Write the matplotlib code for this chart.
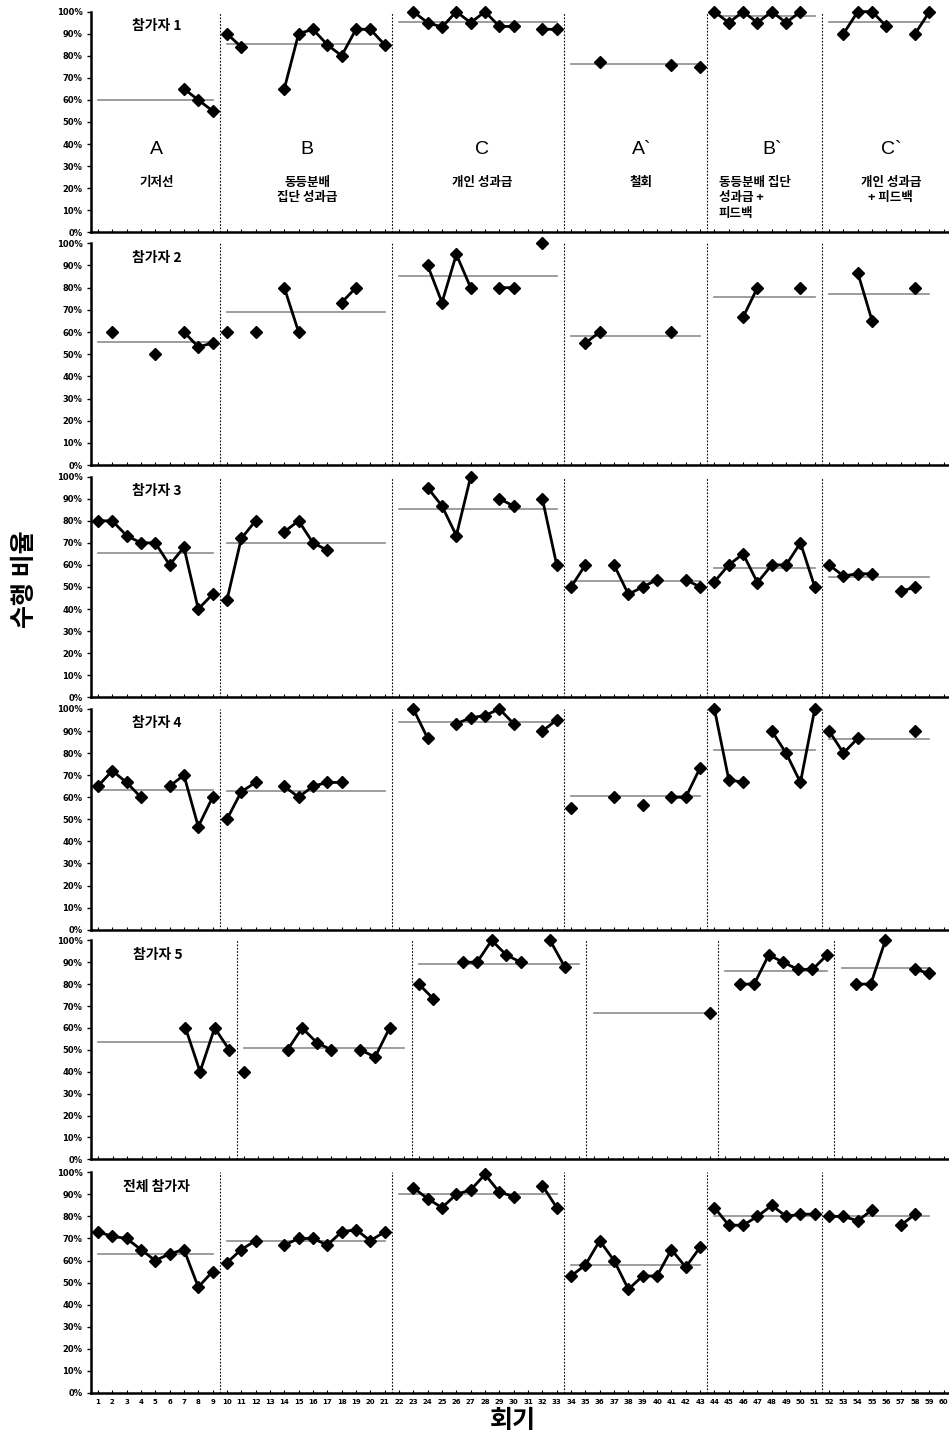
import numpy as np
import matplotlib.pyplot as plt

plt.rcParams['font.family'] = ['Noto Sans CJK KR', 'DejaVu Sans']

N = None

# 회기별 수행 비율 (%), None = 측정 없음
p1 = [N, N, N, N, N, N, 65, 60, 55,
      90, 84, N, N, 65, 90, 92, 85, 80, 92, 92, 85,
      N, 100, 95, 93, 100, 95, 100, 93.3, 93.3, N, 92, 92,
      N, N, 77, N, N, N, N, 76, N, 75,
      100, 95, 100, 95, 100, 95, 100, N,
      N, 90, 100, 100, 93.3, N, 90, 100, N]
p2 = [N, 60, N, N, 50, N, 60, 53.3, 55,
      60, N, 60, N, 80, 60, N, N, 73.3, 80, N, N,
      N, N, 90, 73.3, 95, 80, N, 80, 80, N, 100, N,
      N, 55, 60, N, N, N, N, 60, N, N,
      N, N, 66.7, 80, N, N, 80, N,
      N, N, 86.7, 65, N, N, 80, N, N]
p3 = [80, 80, 73.3, 70, 70, 60, 68, 40, 46.7,
      44, 72, 80, N, 75, 80, 70, 66.7, N, N, N, N,
      N, N, 95, 86.7, 73.3, 100, N, 90, 86.7, N, 90, 60,
      50, 60, N, 60, 46.7, 50, 53.3, N, 53.3, 50,
      52.4, 60, 65, 52, 60, 60, 70, 50,
      60, 55, 56, 56, N, 48, 50, N, N]
p4 = [65, 72, 66.7, 60, N, 65, 70, 46.7, 60,
      50, 62.5, 66.7, N, 65, 60, 65, 66.7, 66.7, N, N, N,
      N, 100, 86.7, N, 93.3, 96, 97, 100, 93.3, N, 90, 95,
      55, N, N, 60, N, 56.7, N, 60, 60, 73.3,
      100, 68, 66.7, N, 90, 80, 66.7, 100,
      90, 80, 86.7, N, N, N, 90, N, N]
# 참가자 5는 59회기
p5 = [N, N, N, N, N, N, 60, 40, 60, 50,
      40, N, N, 50, 60, 53.3, 50, N, 50, 46.7, 60, N,
      80, 73.3, N, 90, 90, 100, 93.3, 90, N, 100, 88, N,
      N, N, N, N, N, N, N, N, 66.7,
      N, 80, 80, 93.3, 90, 86.7, 86.7, 93.3,
      N, 80, 80, 100, N, 86.7, 85, N]
p6 = [73, 71, 70, 65, 60, 63, 65, 48, 55,
      59, 65, 69, N, 67, 70, 70, 67, 73, 74, 69, 73,
      N, 93, 88, 84, 90, 92, 99, 91, 89, N, 94, 84,
      53, 58, 69, 60, 47, 53, 53, 65, 57, 66,
      84, 76, 76, 80, 85, 80, 81, 81,
      80, 80, 78, 83, N, 76, 81, N, N]

# 단계별 평균선
means = [
    [60, 85.5, 95.5, 76.2, 98, 95.5],
    [55.5, 68.9, 85.2, 58.3, 75.6, 77.0],
    [65.3, 69.8, 85.2, 52.9, 58.6, 54.4],
    [63.1, 62.7, 94.3, 60.7, 81.4, 86.5],
    [53.4, 51.0, 89.0, 66.7, 85.8, 87.3],
    [63, 69, 90, 58, 80, 80],
]
phase_spans = [(1, 9), (10, 21), (22, 33), (34, 43), (44, 51), (52, 59)]
phase_spans5 = [(1, 10), (11, 22), (23, 34), (35, 43), (44, 51), (52, 58)]
phase_breaks = [9.5, 21.5, 33.5, 43.5, 51.5]
phase_breaks5 = [10.5, 22.5, 34.5, 43.5, 51.5]

titles = ['참가자 1', '참가자 2', '참가자 3', '참가자 4', '참가자 5', '전체 참가자']
phase_letters = ['A', 'B', 'C', 'A`', 'B`', 'C`']
letter_x = [5.1, 15.6, 27.8, 38.9, 48.0, 56.3]
phase_names = ['기저선', '동등분배\n집단 성과급', '개인 성과급', '철회',
               '동등분배 집단\n성과급 +\n피드백', '개인 성과급\n+ 피드백']

data = [p1, p2, p3, p4, p5, p6]

fig = plt.figure(figsize=(9.49, 14.38), dpi=100)

bottoms = [0.8385, 0.6766, 0.5151, 0.3535, 0.1938, 0.0313]
heights = [0.1534, 0.1542, 0.1534, 0.1535, 0.1523, 0.1535]

for i, vals in enumerate(data):
    ax = fig.add_axes([0.0956, bottoms[i], 0.9065, heights[i]])
    y = np.array([np.nan if v is None else v for v in vals], dtype=float)
    n = len(y)
    x = np.arange(1, n + 1)
    spans = phase_spans5 if i == 4 else phase_spans
    breaks = phase_breaks5 if i == 4 else phase_breaks

    for b in breaks:
        ax.axvline(b, color='black', ls=(0, (1.5, 1.5)), lw=0.8)
    for (s, e), m in zip(spans, means[i]):
        ax.plot([s, e], [m, m], color='#8c8c8c', lw=1.2)

    # 단계 경계에서 선을 끊기
    for (s, e) in spans:
        seg = (x >= s) & (x <= e)
        ax.plot(x[seg], y[seg], color='black', lw=2, marker='D', ms=6,
                mfc='black', mec='black', clip_on=False, zorder=5)

    ax.set_xlim(0.5, n + 0.5)
    ax.set_ylim(0, 100)
    ax.set_yticks(np.arange(0, 101, 10))
    ax.set_yticklabels([f'{v}%' for v in range(0, 101, 10)],
                       fontsize=6, fontweight='bold', family='DejaVu Sans')
    ax.set_xticks(x)
    if i == 5:
        ax.set_xticklabels([str(v) for v in x], fontsize=5, fontweight='bold',
                           family='DejaVu Sans')
    else:
        ax.set_xticklabels([])
    ax.tick_params(axis='x', direction='in', length=2, width=0.8, pad=4)
    ax.tick_params(axis='y', direction='out', length=3, width=1, pad=3)
    for sp in ['top', 'right']:
        ax.spines[sp].set_visible(False)
    ax.spines['left'].set_linewidth(1.8)
    ax.spines['bottom'].set_linewidth(1.8)

    ax.text(5.1, 93.5, titles[i], ha='center', va='center', fontsize=10,
            fontweight='bold')

    if i == 0:
        for lx, lt in zip(letter_x, phase_letters):
            ax.text(lx, 37.3, lt, ha='center', va='center', fontsize=14,
                    family='Liberation Sans')
        for k, (lx, nm) in enumerate(zip(letter_x, phase_names)):
            if k == 4:
                ax.text(44.3, 25.5, nm, ha='left', va='top', fontsize=9,
                        fontweight='bold', linespacing=1.25)
            else:
                ax.text(lx, 25.5, nm, ha='center', va='top', fontsize=9,
                        fontweight='bold', linespacing=1.25)

fig.text(0.026, 0.597, '수행 비율', rotation=90, ha='center', va='center',
         fontsize=18, fontweight='bold')
fig.text(0.54, 0.012, '회기', ha='center', va='center', fontsize=18,
         fontweight='bold')

fig.savefig('out.png', dpi=100)
